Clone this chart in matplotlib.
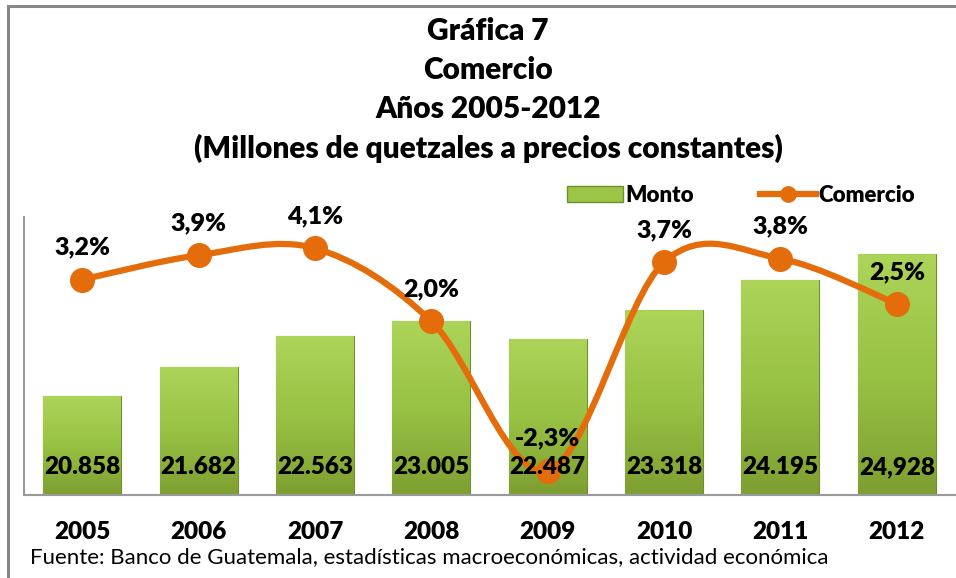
import numpy as np
import matplotlib
matplotlib.use('Agg')
from matplotlib import pyplot as plt
from matplotlib.path import Path
from matplotlib.patches import PathPatch, Rectangle
from matplotlib.lines import Line2D

plt.rcParams['font.family'] = ['Lato', 'DejaVu Sans']

years = ['2005', '2006', '2007', '2008', '2009', '2010', '2011', '2012']
monto = [20858, 21682, 22563, 23005, 22487, 23318, 24195, 24928]
monto_lbl = ['20.858', '21.682', '22.563', '23.005', '22.487', '23.318', '24.195', '24,928']
comercio = [3.2, 3.9, 4.1, 2.0, -2.3, 3.7, 3.8, 2.5]
comercio_lbl = ['3,2%', '3,9%', '4,1%', '2,0%', '-2,3%', '3,7%', '3,8%', '2,5%']

orange = '#e46c0a'
W, H = 956, 578
fig = plt.figure(figsize=(W/100, H/100), dpi=100)

# outer frame (only top and left visible)
fig.add_artist(Line2D([8/W, 1.01], [1-6/H, 1-6/H], color='#878787', lw=2.2))
fig.add_artist(Line2D([8/W, 8/W], [1-6/H, -0.01], color='#878787', lw=2.2))

ax = fig.add_axes([24/W, 1-495/H, 931/W, 278/H])
x = np.arange(len(years))
bars = ax.bar(x, monto, width=0.67, bottom=0, color='#9cc447',
              edgecolor='#6f8f2c', linewidth=0.8, zorder=2)
grad = np.linspace(0, 1, 100).reshape(-1, 1)
cmap = matplotlib.colors.LinearSegmentedColormap.from_list('g', ['#7e9f31', '#98c244', '#acd459'])
for b in bars:
    im = ax.imshow(grad, cmap=cmap, origin='lower', aspect='auto',
                   extent=[b.get_x(), b.get_x()+b.get_width(), 18000, b.get_height()],
                   zorder=2.5)
    im.set_clip_path(b)
ax.set_xlim(-0.5, 7.5)
ax.set_ylim(18000, 26000)
ax.set_yticks([])
ax.set_xticks(x)
ax.set_xticklabels(years, fontsize=17.5, fontweight='heavy')
ax.tick_params(axis='x', length=0, pad=19)
for s in ['top', 'right']:
    ax.spines[s].set_visible(False)
ax.spines['left'].set_color('#9a9a9a')
ax.spines['bottom'].set_color('#9a9a9a')
ax.spines['left'].set_linewidth(1.5)
ax.spines['bottom'].set_linewidth(1.5)

ax2 = ax.twinx()
ax2.set_ylim(-3, 5)
ax2.set_yticks([])
for s in ['top', 'right', 'left', 'bottom']:
    ax2.spines[s].set_visible(False)

# smoothed line (Excel-style Catmull-Rom)
pts = np.column_stack([x, comercio]).astype(float)
ext = np.vstack([pts[0], pts, pts[-1]])
verts = [pts[0]]
codes = [Path.MOVETO]
for i in range(len(pts)-1):
    p0, p1, p2, p3 = ext[i], ext[i+1], ext[i+2], ext[i+3]
    verts += [p1 + (p2-p0)/6, p2 - (p3-p1)/6, p2]
    codes += [Path.CURVE4]*3
ax2.add_patch(PathPatch(Path(verts, codes), fill=False, edgecolor=orange,
                        lw=4.5, capstyle='round', joinstyle='round', zorder=3))
ax2.plot(x, comercio, 'o', color=orange, markersize=17, zorder=4)

for xi, v, t in zip(x, comercio, comercio_lbl):
    ax2.annotate(t, (xi, v), xytext=(0, 23), textcoords='offset points',
                 ha='center', va='center', fontsize=18, fontweight='heavy', zorder=6)
for xi, t in zip(x, monto_lbl):
    ax2.text(xi, 18800, t, transform=ax.transData, ha='center', va='center',
             fontsize=17.5, fontweight='heavy', zorder=6)

# legend
h1 = Rectangle((0, 0), 1, 1, facecolor='#9cc447', edgecolor='#6f8f2c')
h2 = Line2D([], [], color=orange, lw=4.5, marker='o', markersize=11)
fig.legend([h1, h2], ['Monto', 'Comercio'], ncol=2, loc='center',
           bbox_to_anchor=(741/W, 1-195/H), frameon=False,
           prop={'size': 16, 'weight': 'heavy'}, handlelength=2.5,
           handletextpad=0.1, columnspacing=3.0)

titles = ['Gráfica 7', 'Comercio', 'Años 2005-2012',
          '(Millones de quetzales a precios constantes)']
for i, t in enumerate(titles):
    fig.text(488/W, 1-(31+39*i)/H, t, ha='center', va='center',
             fontsize=21.5, fontweight='heavy')

fig.text(30/W, 1-557/H, 'Fuente: Banco de Guatemala, estadísticas macroeconómicas, actividad económica',
         ha='left', va='center', fontsize=16)

fig.savefig('out.png', dpi=100)
